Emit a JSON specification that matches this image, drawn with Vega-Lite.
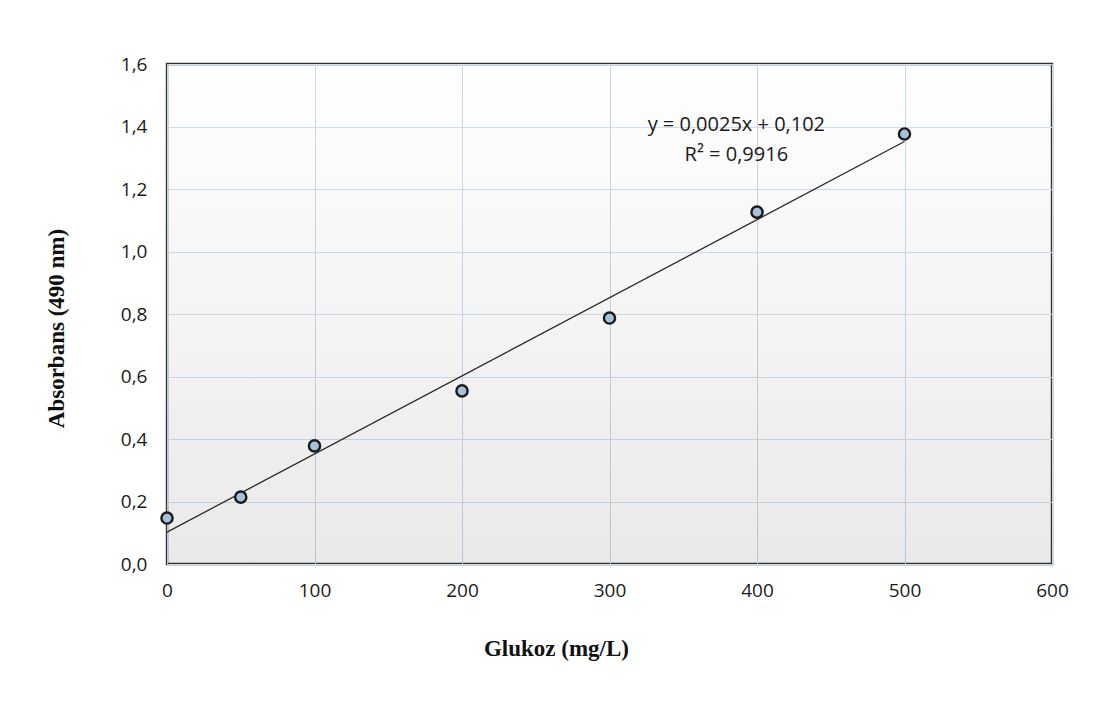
{
  "$schema": "https://vega.github.io/schema/vega-lite/v6.json",
  "width": 885,
  "height": 500,
  "autosize": {"type": "none"},
  "padding": {"left": 167, "top": 64, "right": 51, "bottom": 138},
  "background": "white",
  "config": {
    "locale": {"number": {"decimal": ",", "thousands": ".", "grouping": [3], "currency": ["", " €"]}},
    "view": {"stroke": "#333333", "strokeWidth": 2.4},
    "axis": {
      "labelFont": "Open Sans",
      "labelFontSize": 19,
      "labelColor": "#1a1a1a",
      "labelFlush": false,
      "titleFont": "Liberation Serif",
      "titleFontWeight": "bold",
      "titleFontSize": 23,
      "titleColor": "#111111",
      "domain": false,
      "ticks": false
    }
  },
  "datasets": {
    "points": [
      {"glukoz": 0, "abs": 0.147},
      {"glukoz": 50, "abs": 0.214},
      {"glukoz": 100, "abs": 0.378},
      {"glukoz": 200, "abs": 0.554},
      {"glukoz": 300, "abs": 0.787},
      {"glukoz": 400, "abs": 1.126},
      {"glukoz": 500, "abs": 1.376}
    ],
    "trend": [
      {"glukoz": 0, "abs": 0.102},
      {"glukoz": 500, "abs": 1.352}
    ],
    "label": [
      {"glukoz": 386, "abs": 1.405, "text": "y = 0,0025x + 0,102"},
      {"glukoz": 386, "abs": 1.31, "text": "R² = 0,9916"}
    ],
    "bg": [{"k": 1}]
  },
  "layer": [
    {
      "data": {"name": "bg"},
      "mark": {
        "type": "rect",
        "color": {
          "gradient": "linear",
          "x1": 0, "y1": 0, "x2": 0, "y2": 1,
          "stops": [
            {"offset": 0, "color": "rgba(0,0,0,0)"},
            {"offset": 1, "color": "rgba(0,0,0,0.085)"}
          ]
        }
      },
      "encoding": {}
    },
    {
      "data": {"name": "trend"},
      "mark": {"type": "line", "color": "#2a2a2a", "strokeWidth": 1.3},
      "encoding": {
        "x": {
          "field": "glukoz", "type": "quantitative",
          "scale": {"domain": [0, 600], "nice": false},
          "axis": {
            "title": "Glukoz (mg/L)",
            "values": [0, 100, 200, 300, 400, 500, 600],
            "format": "d",
            "labelPadding": 17,
            "grid": true,
            "gridColor": "#c6daee",
            "gridWidth": 1,
            "titlePadding": 37,
            "titleX": 389
          }
        },
        "y": {
          "field": "abs", "type": "quantitative",
          "scale": {"domain": [0, 1.6], "nice": false},
          "axis": {
            "title": "Absorbans (490 nm)",
            "values": [0, 0.2, 0.4, 0.6, 0.8, 1.0, 1.2, 1.4, 1.6],
            "format": ".1f",
            "labelPadding": 20,
            "grid": true,
            "gridColor": "#d2e0ee",
            "gridWidth": 1,
            "titlePadding": 52,
            "titleY": 264
          }
        }
      }
    },
    {
      "data": {"name": "points"},
      "mark": {"type": "point", "shape": "circle", "filled": true, "fill": "#a9c0dc", "stroke": "#1a1a1a", "strokeWidth": 2.4, "size": 125, "opacity": 1},
      "encoding": {
        "x": {"field": "glukoz", "type": "quantitative"},
        "y": {"field": "abs", "type": "quantitative"}
      }
    },
    {
      "data": {"name": "label"},
      "mark": {"type": "text", "font": "Open Sans", "fontSize": 20, "color": "#1a1a1a", "align": "center", "baseline": "middle"},
      "encoding": {
        "x": {"field": "glukoz", "type": "quantitative"},
        "y": {"field": "abs", "type": "quantitative"},
        "text": {"field": "text"}
      }
    }
  ]
}
